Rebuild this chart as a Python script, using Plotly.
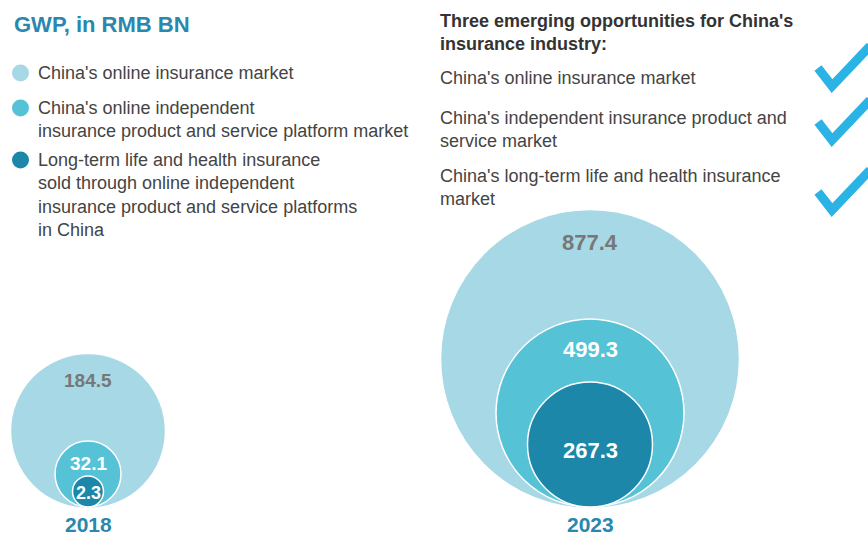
import plotly.graph_objects as go

# --------------------------------------------
# Data
# --------------------------------------------
years = ["2018", "2023"]
online_market = [184.5, 877.4]
independent_platform = [32.1, 499.3]
long_term_life_health = [2.3, 267.3]

legend_labels = [
    "China's online insurance market",
    "China's online independent<br>insurance product and service platform market",
    "Long-term life and health insurance<br>sold through online independent<br>"
    "insurance product and service platforms<br>in China",
]
opportunities = [
    "China's online insurance market",
    "China's independent insurance product and<br>service market",
    "China's long-term life and health insurance<br>market",
]

# --------------------------------------------
# Styling / layout (pixel coordinates)
# --------------------------------------------
W, H = 868, 538
FONT = "Liberation Sans, Arial, sans-serif"
COLORS = ["#A7D8E5", "#55C2D6", "#1C87A9"]
LABEL_COLORS = ["#777777", "#FFFFFF", "#FFFFFF"]
TEAL = "#2A87AE"
BASELINE = 507
centers_x = [88, 590]
# display radii of the nested circles per year (outer, middle, inner)
radii = [[76, 33, 15.5], [148, 94, 62.5]]
# where the value label sits, measured down from each circle's top
label_offset = [[25, 22, 17], [31, 30, 68]]
label_size = [[19, 19, 18], [22, 22, 22]]

fig = go.Figure()
shapes = []
annotations = []

series = [online_market, independent_platform, long_term_life_health]
for i, year in enumerate(years):
    cx = centers_x[i]
    for j, vals in enumerate(series):
        r = radii[i][j]
        shapes.append(dict(
            type="circle", xref="x", yref="y",
            x0=cx - r, x1=cx + r, y0=BASELINE - 2 * r, y1=BASELINE,
            fillcolor=COLORS[j],
            line=dict(color="white" if j > 0 else COLORS[j], width=1.5),
            layer="below",
        ))
        top = BASELINE - 2 * r
        annotations.append(dict(
            x=cx, y=top + label_offset[i][j], xref="x", yref="y",
            text=f"<b>{vals[i]}</b>", showarrow=False,
            font=dict(family=FONT, size=label_size[i][j], color=LABEL_COLORS[j]),
        ))
    # year label under each group
    annotations.append(dict(
        x=cx, y=H - 1, xref="x", yref="y", text=f"<b>{year}</b>",
        yanchor="bottom", showarrow=False, borderpad=0,
        font=dict(family=FONT, size=21, color=TEAL),
    ))

# title
annotations.append(dict(
    x=12, y=24, xref="x", yref="y", text="<b>GWP, in RMB BN</b>",
    xanchor="left", showarrow=False,
    font=dict(family=FONT, size=22, color=TEAL),
))

# legend dots and labels
legend_y = [73, 108, 160]
for k, lab in enumerate(legend_labels):
    shapes.append(dict(
        type="circle", xref="x", yref="y",
        x0=12, x1=29, y0=legend_y[k] - 8.5, y1=legend_y[k] + 8.5,
        fillcolor=COLORS[k], line=dict(width=0),
    ))
    annotations.append(dict(
        x=36, y=legend_y[k] - 12, xref="x", yref="y", text=lab,
        xanchor="left", yanchor="top", align="left", showarrow=False,
        font=dict(family=FONT, size=18, color="#444444"),
    ))

# right-hand panel
annotations.append(dict(
    x=438, y=9, xref="x", yref="y",
    text="<b>Three emerging opportunities for China's<br>insurance industry:</b>",
    xanchor="left", yanchor="top", align="left", showarrow=False,
    font=dict(family=FONT, size=18, color="#333333"),
))
opp_y = [66, 106, 164]
for k, lab in enumerate(opportunities):
    annotations.append(dict(
        x=438, y=opp_y[k], xref="x", yref="y", text=lab,
        xanchor="left", yanchor="top", align="left", showarrow=False,
        font=dict(family=FONT, size=18, color="#444444"),
    ))

# check marks
check_y = [68, 122, 192]
for cy in check_y:
    fig.add_trace(go.Scatter(
        x=[818, 832, 870], y=[cy, cy + 18, cy - 22],
        mode="lines", line=dict(color="#2AB3E4", width=9),
        hoverinfo="skip", showlegend=False,
    ))

fig.update_layout(
    width=W, height=H,
    margin=dict(l=0, r=0, t=0, b=0),
    paper_bgcolor="white", plot_bgcolor="white",
    xaxis=dict(range=[0, W], visible=False, fixedrange=True),
    yaxis=dict(range=[H, 0], visible=False, fixedrange=True),
    shapes=shapes, annotations=annotations,
    showlegend=False,
)

fig.write_html(
    "out.html",
    config={"displayModeBar": False},
    post_script="document.body.style.margin='0';",
)
